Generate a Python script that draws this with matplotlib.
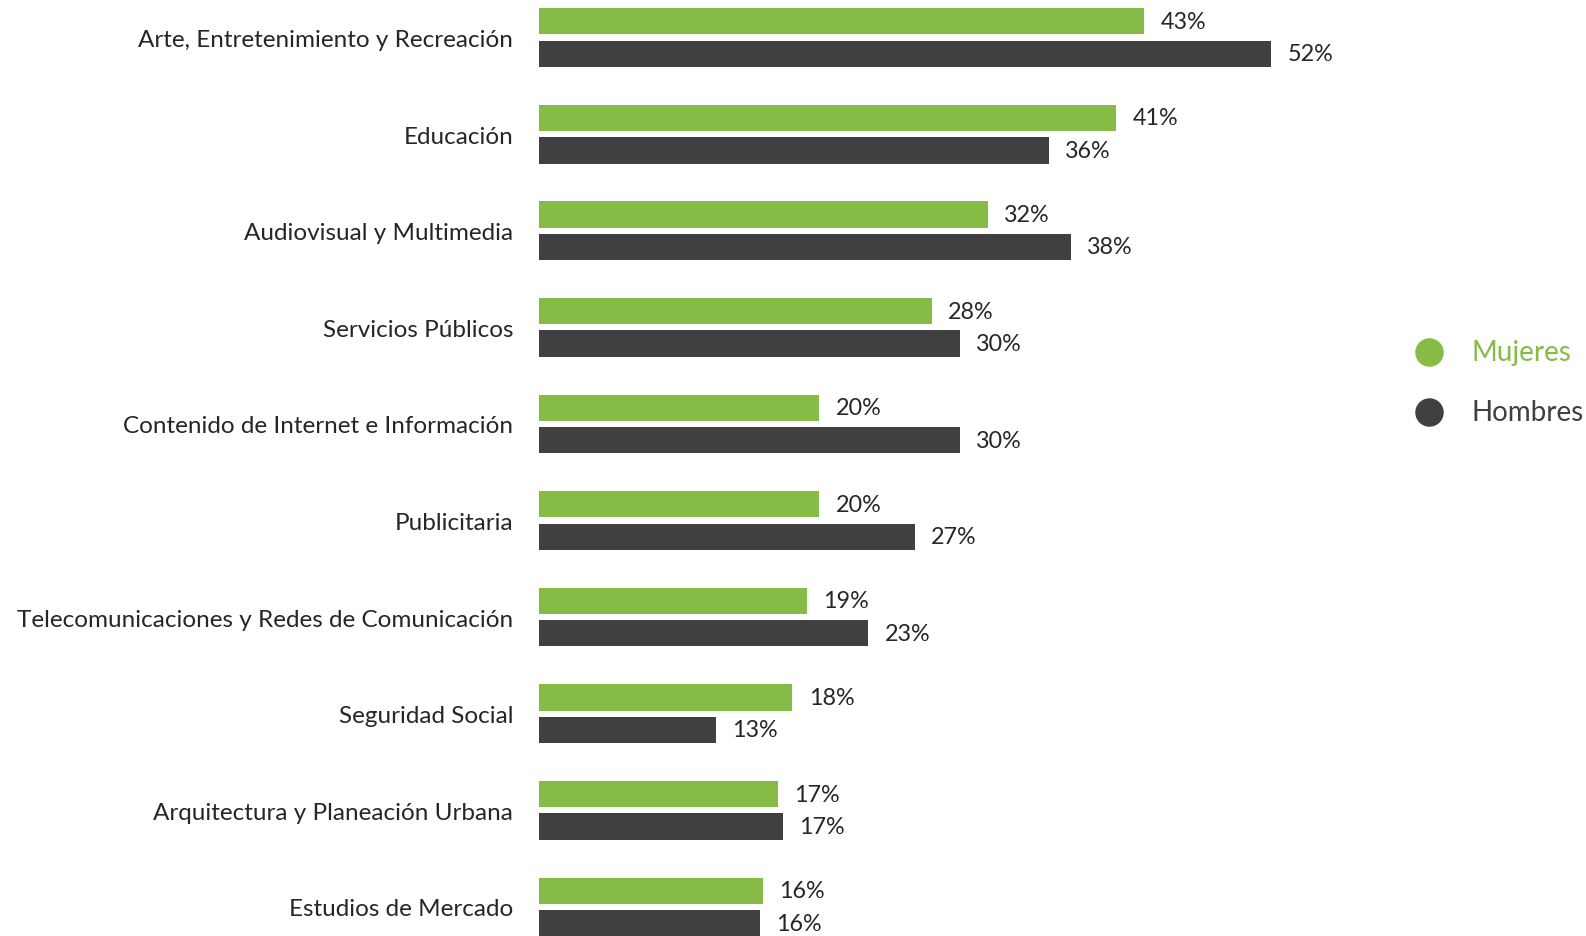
import matplotlib
matplotlib.use("Agg")
import matplotlib.pyplot as plt
from matplotlib.lines import Line2D
from matplotlib.patches import Circle
import numpy as np

plt.rcParams['font.family'] = ['Lato', 'DejaVu Sans']

categories = [
    "Arte, Entretenimiento y Recreación",
    "Educación",
    "Audiovisual y Multimedia",
    "Servicios Públicos",
    "Contenido de Internet e Información",
    "Publicitaria",
    "Telecomunicaciones y Redes de Comunicación",
    "Seguridad Social",
    "Arquitectura y Planeación Urbana",
    "Estudios de Mercado",
]
mujeres = [43.0, 41.0, 31.9, 27.9, 19.9, 19.9, 19.0, 18.0, 17.0, 15.9]
hombres = [52.0, 36.2, 37.8, 29.9, 29.9, 26.7, 23.4, 12.6, 17.3, 15.7]
series_names = ["Mujeres", "Hombres"]

green = "#86BC46"
dark = "#404040"
text_col = "#262626"

W, H = 1586, 937
fig = plt.figure(figsize=(W / 100, H / 100), dpi=100)

# axes placed so bars start at x=539px
left_px = 539
px_per_pct = 14.08
xmax = 60
ax = fig.add_axes([left_px / W, 0, xmax * px_per_pct / W, 1])

y = np.arange(len(categories))
off = 0.168
h = 0.272
ax.barh(y - off, mujeres, height=h, color=green)
ax.barh(y + off, hombres, height=h, color=dark)

ax.set_xlim(0, xmax)
ax.set_ylim(9.301, -0.399)

for i in range(len(categories)):
    ax.text(mujeres[i] + 1.15, y[i] - off, f"{mujeres[i]:.0f}%", va="center", ha="left",
            fontsize=16.8, color=text_col)
    ax.text(hombres[i] + 1.15, y[i] + off, f"{hombres[i]:.0f}%", va="center", ha="left",
            fontsize=16.8, color=text_col)

ax.set_yticks(y)
ax.set_yticklabels(categories, fontsize=17.5, color=text_col)
ax.tick_params(axis="y", length=0, pad=18.5)
ax.set_xticks([])
for s in ax.spines.values():
    s.set_visible(False)

# legend drawn by hand: dot + coloured label
for name, col, ypx in zip(series_names, [green, dark], [353, 413]):
    fig.add_artist(Line2D([1429 / W], [1 - ypx / H], marker="o", markersize=19.5,
                          linestyle="", color=col, transform=fig.transFigure))
    fig.text(1472 / W, 1 - ypx / H, name, color=col, fontsize=20, va="center", ha="left")

# small blue mark at the top-left corner
fig.patches.append(Circle((12 / W, 1 + 8 / H), 10 / W, transform=fig.transFigure,
                          color="#1BA1DA"))

fig.savefig("out.png", dpi=100)
